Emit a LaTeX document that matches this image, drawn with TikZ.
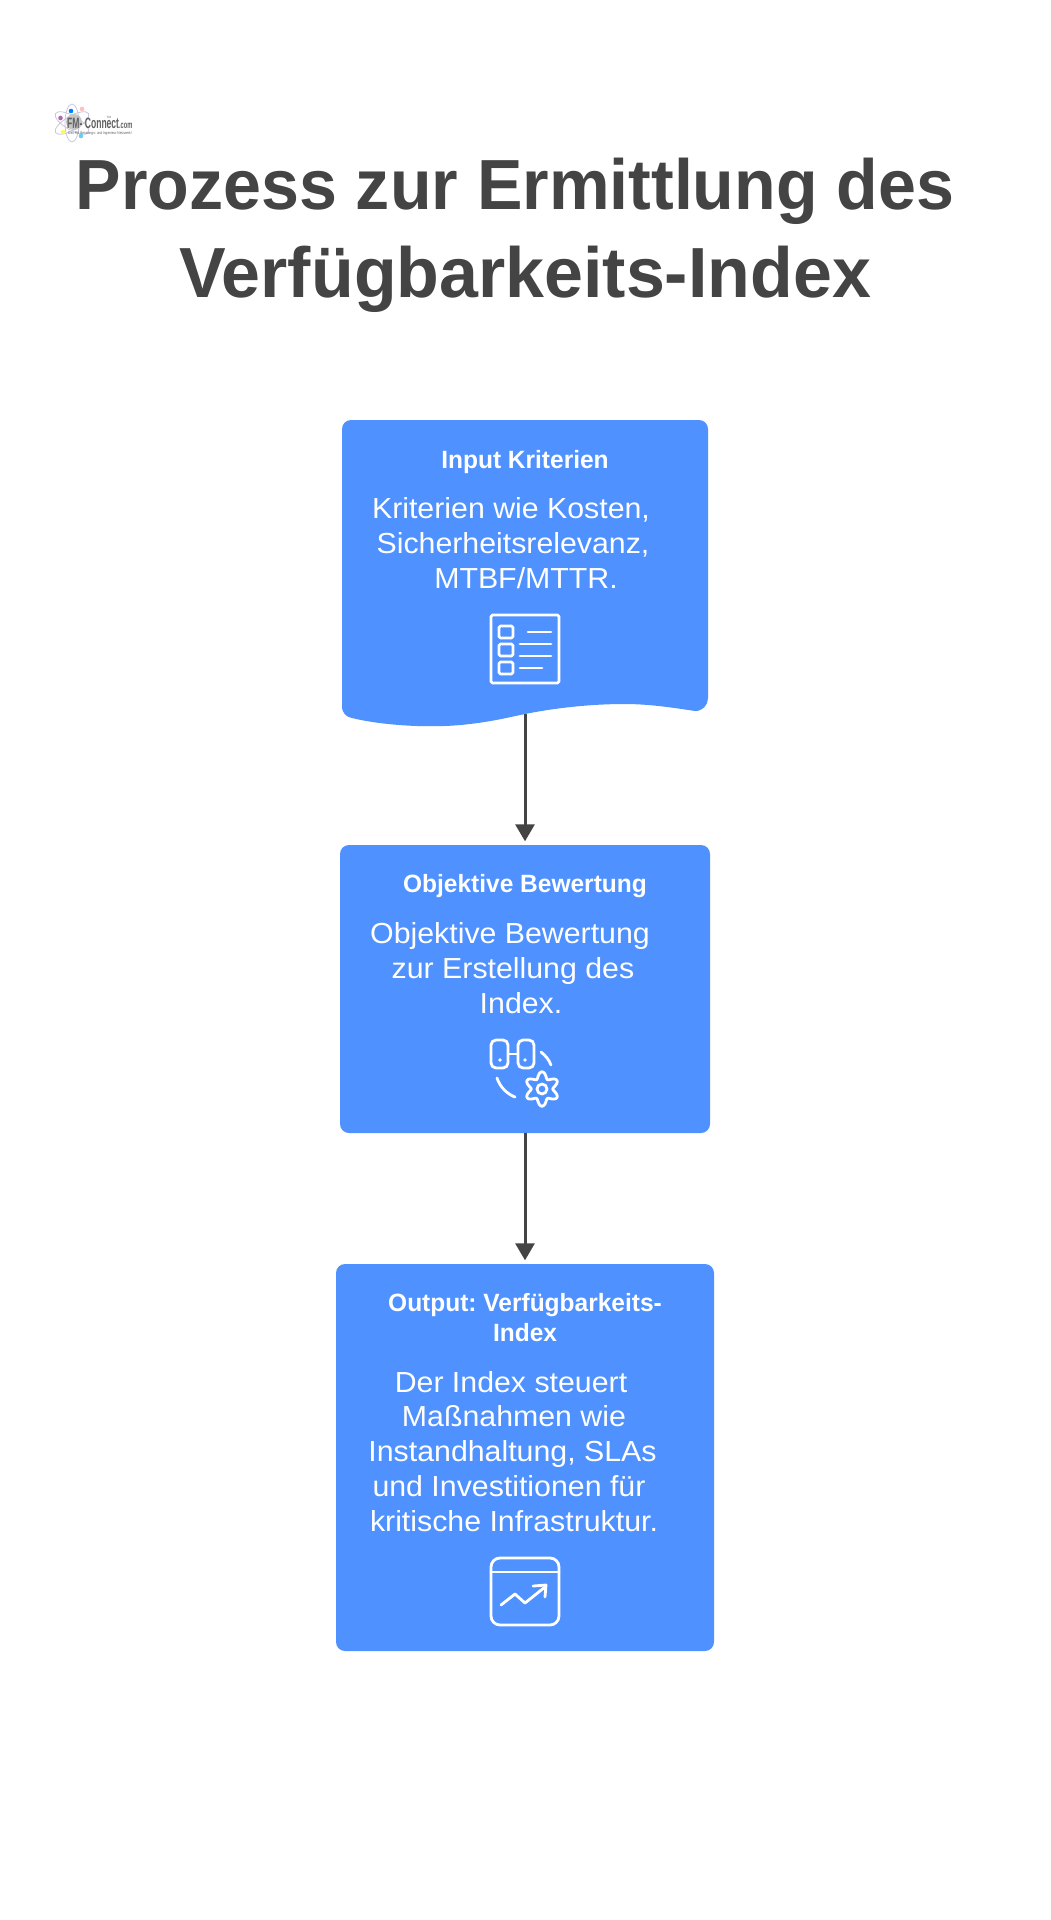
\documentclass[tikz,border=0pt]{standalone}
\usepackage{fontspec}
\setmainfont{Liberation Sans}
\newfontfamily\titlefont[FakeStretch=0.96]{Liberation Sans}
\newfontfamily\titlefontb[FakeStretch=0.985]{Liberation Sans}
\newfontfamily\headfont[FakeStretch=0.98]{Liberation Sans}
\newfontfamily\bodyfont[FakeStretch=1.045]{Liberation Sans}
\newfontfamily\logofont[FakeStretch=0.57]{Liberation Sans}
\newfontfamily\logosubfont[FakeStretch=0.8]{Liberation Sans}
\usetikzlibrary{arrows.meta}
\definecolor{boxblue}{HTML}{4F91FF}
\definecolor{inkgray}{HTML}{444444}
\tikzset{
  flowbox/.style={fill=boxblue,rounded corners=9pt,inner sep=0pt},
  headtxt/.style={anchor=base,text=white,font=\headfont\fontsize{25}{25}\selectfont\bfseries},
  bodytxt/.style={anchor=base,text=white,font=\bodyfont\fontsize{29}{29}\selectfont},
  titletxt/.style={anchor=base,text=inkgray,font=\fontsize{71}{71}\selectfont\bfseries},
  flowarrow/.style={draw=inkgray,line width=3pt,-{Triangle[length=17pt,width=19pt]},shorten >=3.5pt},
  iconline/.style={draw=white,line width=2.8pt,line cap=round,line join=round},
  petal/.style={draw=blue!25!gray!35,line width=0.8pt},
  logotxtstyle/.style={inner sep=0pt,text=inkgray!85}
}
\begin{document}
\frenchspacing
\begin{tikzpicture}[x=1pt,y=-1pt]
  \useasboundingbox (0,0) rectangle (1050,1920);
  % logo
  \foreach \a in {0,60,120} {
    \draw[petal,rotate around={\a:(72,123)}] (72,123) ellipse (7 and 19);
  }
  \fill[gray!45] (74,122) circle (8);
  \fill[violet!60] (60.5,118) circle (2.3);
  \fill[blue!50!cyan] (71,111) circle (2.3);
  \fill[red!25] (82,109) circle (2.3);
  \fill[yellow!60] (63,132) circle (2.3);
  \fill[cyan!60] (81,136) circle (2.3);
  \node[logotxtstyle,anchor=base west,font=\logofont\fontsize{15}{15}\selectfont\bfseries] (logotxt) at (67,128) {FM-\,Connect\fontsize{10}{10}\selectfont.com};
  \node[logotxtstyle,anchor=base,font=\fontsize{3}{3}\selectfont] (logotm) at (109,118) {TM};
  \node[logotxtstyle,anchor=base west,font=\logosubfont\fontsize{4}{4}\selectfont] (logosub) at (68,134) {Das FM Beratungs- und Ingenieur-Netzwerk!};
  % title
  \node[titletxt,font=\titlefont\fontsize{71}{71}\selectfont\bfseries] (titlea) at (515,209) {Prozess zur Ermittlung des};
  \node[titletxt,font=\titlefontb\fontsize{71}{71}\selectfont\bfseries] (titleb) at (525,297) {Verfügbarkeits-Index};
  % wavy box, the node only carries the anchors
  \fill[boxblue,rounded corners=9pt] (342,600) -- (342,420) -- (708,420) [sharp corners] -- (708,698)
    .. controls (708,705) and (703,711) .. (695,711)
    .. controls (675,708) and (650,704) .. (625,704)
    .. controls (590,704) and (555,708) .. (525,714)
    .. controls (510,717) and (495,721) .. (470,724)
    .. controls (430,729) and (380,725) .. (352,718)
    .. controls (347,717) and (342,714) .. (342,706) -- cycle;
  \node[inner sep=0pt,minimum width=366pt,minimum height=294pt] (inputbox) at (525,567) {};
  \node[flowbox,minimum width=370pt,minimum height=288pt] (bewertbox) at (525,989) {};
  \node[flowbox,minimum width=378pt,minimum height=387pt] (outputbox) at (525,1457.5) {};
  % arrows
  \draw[flowarrow] (inputbox.south) -- (bewertbox.north);
  \draw[flowarrow] (bewertbox.south) -- (outputbox.north);
  % texts of the first box
  \node[headtxt] (inputhead) at (525,468) {Input Kriterien};
  \node[bodytxt] (inputa) at (511,518) {Kriterien wie Kosten,};
  \node[bodytxt] (inputb) at (513,553) {Sicherheitsrelevanz,};
  \node[bodytxt] (inputc) at (526,588) {MTBF/MTTR.};
  % texts of the second box
  \node[headtxt] (bewerthead) at (525,892) {Objektive Bewertung};
  \node[bodytxt] (bewerta) at (510,943) {Objektive Bewertung};
  \node[bodytxt] (bewertb) at (513,978) {zur Erstellung des};
  \node[bodytxt] (bewertc) at (521,1013) {Index.};
  % texts of the third box
  \node[headtxt] (outputheada) at (525,1311) {Output: Verfügbarkeits-};
  \node[headtxt] (outputheadb) at (525,1341) {Index};
  \node[bodytxt] (outputa) at (511,1392) {Der Index steuert};
  \node[bodytxt] (outputb) at (514,1426) {Maßnahmen wie};
  \node[bodytxt] (outputc) at (512.5,1461) {Instandhaltung, SLAs};
  \node[bodytxt] (outputd) at (509,1496) {und Investitionen für};
  \node[bodytxt] (outpute) at (514,1531) {kritische Infrastruktur.};
  % list icon
  \draw[iconline,rounded corners=1.5pt] (491,615) rectangle (559,683);
  \foreach \y in {632,650,668} {
    \draw[iconline,rounded corners=1.5pt] (499,\y-6) rectangle (513,\y+6);
  }
  \draw[iconline] (528,632) -- (551,632);
  \draw[iconline] (520,644) -- (551,644);
  \draw[iconline] (520,656) -- (551,656);
  \draw[iconline] (520,668) -- (542,668);
  % binoculars and gear icon
  \draw[iconline,rounded corners=5pt] (491,1040) rectangle (508,1068);
  \draw[iconline,rounded corners=5pt] (518,1040) rectangle (534,1068);
  \draw[iconline] (508,1054) -- (518,1054);
  \fill[white] (500,1060) circle (1.8);
  \fill[white] (525,1060) circle (1.8);
  \draw[iconline] (541,1052) .. controls (546,1056) and (549,1060) .. (551,1065);
  \draw[iconline] (497,1078) .. controls (500,1087) and (507,1094) .. (515,1097);
  \draw[iconline,domain=0:360,samples=120,smooth] plot ({542+(14-3.2*cos(6*\x))*cos(\x)},{1089+(14-3.2*cos(6*\x))*sin(\x)}) -- cycle;
  \draw[iconline] (542,1089) circle (5);
  % chart icon
  \draw[iconline,rounded corners=9pt] (491,1558) rectangle (559,1625);
  \draw[iconline] (491,1572) -- (559,1572);
  \draw[iconline] (501,1605) -- (515,1594) -- (525,1603) -- (545,1587);
  \draw[iconline] (533,1586) -- (546,1585) -- (545,1597);
\end{tikzpicture}
\end{document}
